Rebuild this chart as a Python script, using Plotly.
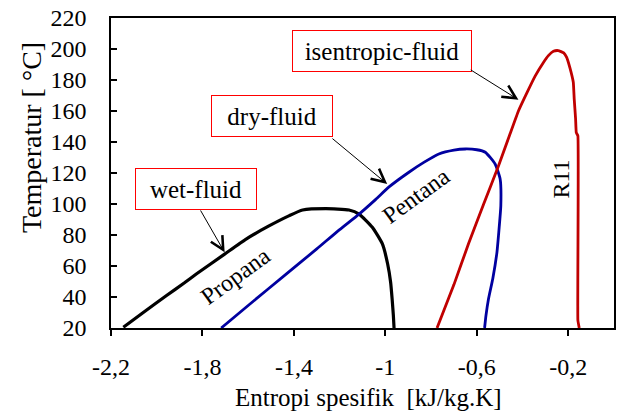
import plotly.graph_objects as go

# Data (entropy [kJ/kg.K], temperature [°C])
propana_s = [-2.146, -2.05, -1.957, -1.88, -1.827, -1.703, -1.609, -1.507, -1.42, -1.362,
             -1.26, -1.159, -1.115, -1.057, -1.013, -0.99, -0.977, -0.970, -0.965, -0.962]
propana_t = [20.5, 31, 41, 49, 54.8, 67.7, 77.4, 86, 92.5, 96.1,
             97.0, 96.1, 93.5, 85, 74.2, 61.3, 49.5, 38, 28, 20]

pentana_s = [-1.718, -1.60, -1.434, -1.30, -1.2, -1.115, -1.042, -0.984, -0.897, -0.83,
             -0.766, -0.70, -0.65, -0.60, -0.563, -0.52, -0.498, -0.495, -0.505, -0.512,
             -0.53, -0.549, -0.56, -0.566]
pentana_t = [20, 34.5, 54.8, 71, 83.5, 93.5, 103, 111, 120.5, 127,
             132.3, 134.8, 135.5, 135, 133.4, 125.8, 116.1, 99, 80, 68.8,
             52, 38.7, 28, 20]

r11_s = [-0.774, -0.70, -0.636, -0.57, -0.505, -0.46, -0.418, -0.38, -0.345, -0.31,
         -0.287, -0.265, -0.244, -0.22, -0.207, -0.193, -0.178, -0.174, -0.168, -0.165,
         -0.158, -0.158, -0.152]
r11_t = [20, 48, 74.5, 100, 124.7, 143, 160, 172, 182.5, 191,
         195.7, 198.5, 199, 197.5, 194.6, 188, 178.5, 167.7, 155, 146,
         144, 25, 20]

x_tickvals = [-2.2, -1.8, -1.4, -1.0, -0.6, -0.2]
x_ticktext = ["-2,2", "-1,8", "-1,4", "-1", "-0,6", "-0,2"]
y_tickvals = [20, 40, 60, 80, 100, 120, 140, 160, 180, 200, 220]

FONT = "Liberation Serif"

fig = go.Figure()
fig.add_trace(go.Scatter(x=propana_s, y=propana_t, mode="lines",
                         line=dict(color="#000000", width=3.2, shape="spline", smoothing=0.5),
                         name="Propana"))
fig.add_trace(go.Scatter(x=pentana_s, y=pentana_t, mode="lines",
                         line=dict(color="#0000A0", width=2.8, shape="spline", smoothing=0.5),
                         name="Pentana"))
fig.add_trace(go.Scatter(x=r11_s, y=r11_t, mode="lines",
                         line=dict(color="#C00000", width=2.8, shape="spline", smoothing=0.3),
                         name="R11"))

annotations = []
# Boxed labels
boxes = [("wet-fluid", -1.827, 109.7, 120),
         ("dry-fluid", -1.496, 156.5, 120),
         ("isentropic-fluid", -1.0135, 198.9, 178)]
for txt, bx, by, w in boxes:
    annotations.append(dict(x=bx, y=by, xref="x", yref="y", text=txt, showarrow=False,
                            xanchor="center", yanchor="middle",
                            width=w, height=40, bordercolor="#FF0000", borderwidth=1,
                            borderpad=0, bgcolor="white",
                            font=dict(family=FONT, size=25, color="black")))
# Arrows (start at box, tip at curve)
arrows = [(-1.812, 96.8, -1.703, 68.8),
          (-1.238, 143.0, -0.992, 112.9),
          (-0.633, 187.1, -0.418, 167.3)]
for sx, sy, tx, ty in arrows:
    annotations.append(dict(x=tx, y=ty, ax=sx, ay=sy, xref="x", yref="y",
                            axref="x", ayref="y", text="", showarrow=True,
                            arrowhead=5, arrowsize=2.6, arrowwidth=1,
                            arrowcolor="black", standoff=0, startstandoff=0))
# Curve labels
annotations.append(dict(x=-1.655, y=53.5, xref="x", yref="y", text="Propana",
                        showarrow=False, textangle=-36, xanchor="center", yanchor="middle",
                        font=dict(family=FONT, size=24, color="black")))
annotations.append(dict(x=-0.867, y=105.2, xref="x", yref="y", text="Pentana",
                        showarrow=False, textangle=-36, xanchor="center", yanchor="middle",
                        font=dict(family=FONT, size=24, color="black")))
annotations.append(dict(x=-0.23, y=116, xref="x", yref="y", text="R11",
                        showarrow=False, textangle=-90, xanchor="center", yanchor="middle",
                        font=dict(family=FONT, size=24, color="black")))
# Axis titles
annotations.append(dict(x=0.511, y=-0.224, xref="paper", yref="paper",
                        xanchor="center", yanchor="middle",
                        text="Entropi spesifik  [kJ/kg.K]", showarrow=False,
                        font=dict(family=FONT, size=25, color="black")))
annotations.append(dict(x=-0.158, y=0.6145, xref="paper", yref="paper",
                        xanchor="center", yanchor="middle",
                        text="Temperatur [ °C]", showarrow=False, textangle=-90,
                        font=dict(family=FONT, size=28, color="black")))

fig.update_layout(
    width=621, height=412,
    margin=dict(l=111, r=5, t=18, b=84),
    paper_bgcolor="white", plot_bgcolor="white",
    showlegend=False,
    font=dict(family=FONT, size=24, color="black"),
    annotations=annotations,
    xaxis=dict(range=[-2.2, 0.0], tickvals=x_tickvals, ticktext=x_ticktext,
               showgrid=False, zeroline=False, showline=True, linecolor="black",
               linewidth=1.5, mirror=True, ticks="outside", ticklen=6,
               tickcolor="black", tickwidth=1.5, ticklabelstandoff=10,
               tickfont=dict(family=FONT, size=24, color="black")),
    yaxis=dict(range=[20, 220], tickvals=y_tickvals,
               showgrid=False, zeroline=False, showline=True, linecolor="black",
               linewidth=1.5, mirror=True, ticks="inside", ticklen=6,
               tickcolor="black", tickwidth=1.5, ticklabelstandoff=18,
               tickfont=dict(family=FONT, size=24, color="black")),
)

fig.write_html("out.html")
